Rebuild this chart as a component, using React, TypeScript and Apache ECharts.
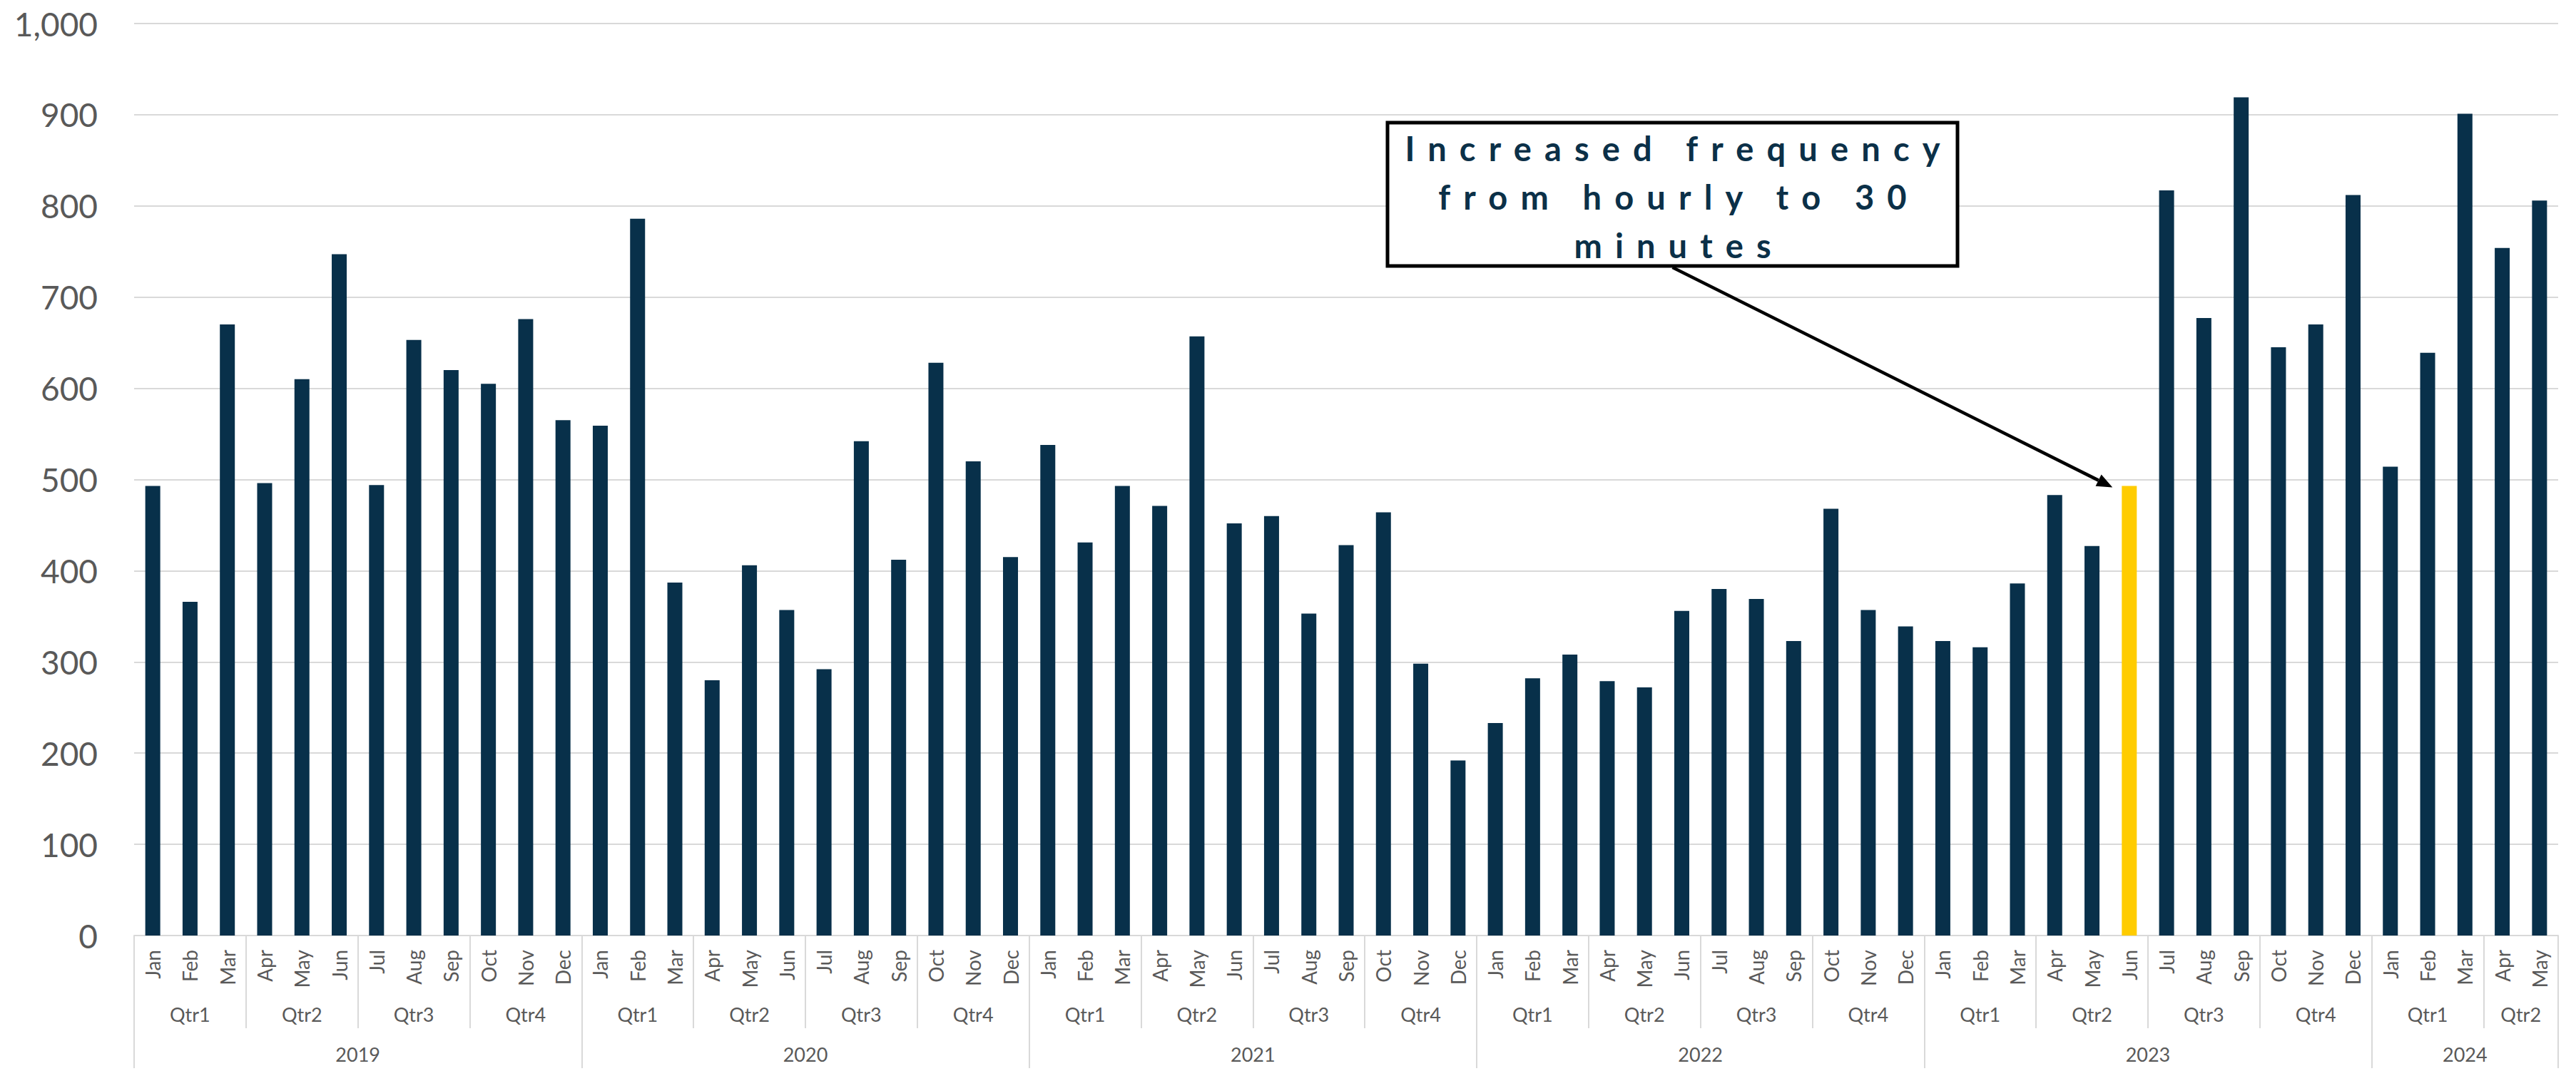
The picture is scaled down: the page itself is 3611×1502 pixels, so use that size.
import React, { useEffect, useRef } from "react";
import * as echarts from "echarts";

const monthNames = ["Jan", "Feb", "Mar", "Apr", "May", "Jun", "Jul", "Aug", "Sep", "Oct", "Nov", "Dec"];
const quarterNames = ["Qtr1", "Qtr2", "Qtr3", "Qtr4"];
const years = ["2019", "2020", "2021", "2022", "2023", "2024"];

const values2019 = [493, 366, 670, 496, 610, 747, 494, 653, 620, 605, 676, 565];
const values2020 = [559, 786, 387, 280, 406, 357, 292, 542, 412, 628, 520, 415];
const values2021 = [538, 431, 493, 471, 657, 452, 460, 353, 428, 464, 298, 192];
const values2022 = [233, 282, 308, 279, 272, 356, 380, 369, 323, 468, 357, 339];
const values2023 = [323, 316, 386, 483, 427, 493, 817, 677, 919, 645, 670, 812];
const values2024 = [514, 639, 901, 754, 806];

const yMin = 0;
const yMax = 1000;
const yStep = 100;

const highlightYear = "2023";
const highlightMonth = "Jun";

const annotationLines = ["Increased frequency", "from hourly to 30", "minutes"];

const yearValues = [values2019, values2020, values2021, values2022, values2023, values2024];

// derived structures
const categories: string[] = [];
const values: number[] = [];
const keys: string[] = [];
type Group = { name: string; start: number; end: number };
const quarterGroups: Group[] = [];
const yearGroups: Group[] = [];
{
  let offset = 0;
  yearValues.forEach((vals, yi) => {
    vals.forEach((v, mi) => {
      categories.push(monthNames[mi]);
      values.push(v);
      keys.push(years[yi] + "-" + monthNames[mi]);
    });
    for (let q = 0; q < 4; q++) {
      const s = q * 3;
      const e = Math.min(s + 3, vals.length);
      if (s < vals.length) quarterGroups.push({ name: quarterNames[q], start: offset + s, end: offset + e });
    }
    yearGroups.push({ name: years[yi], start: offset, end: offset + vals.length });
    offset += vals.length;
  });
}
const total = categories.length;
const highlightIndex = keys.indexOf(highlightYear + "-" + highlightMonth);

const bounds = (gs: Group[]) => [...gs.map((g) => g.start), gs[gs.length - 1].end];
const centers = (gs: Group[]) => gs.map((g) => (g.start + g.end) / 2);
const nameAt = (gs: Group[]) => (v: number) => {
  const g = gs.find((gg) => Math.abs((gg.start + gg.end) / 2 - v) < 1e-6);
  return g ? g.name : "";
};

const FONT = "Lato, 'Noto Sans', sans-serif";
const LABEL = "#595959";
const GRID = "#D9D9D9";
const BAR = "#08304A";
const HIGHLIGHT = "#FFCC00";
const NOTE = "#0B3048";

export default function App() {
  const ref = useRef<HTMLDivElement>(null);

  useEffect(() => {
    const el = ref.current!;
    const chart = echarts.init(el, null, { renderer: "svg" });

    const option: any = {
      animation: false,
      backgroundColor: "#ffffff",
      grid: { left: 188, right: 25, top: 33, bottom: 190, containLabel: false },
      xAxis: [
        {
          type: "category",
          data: categories,
          position: "bottom",
          axisLine: { show: true, lineStyle: { color: GRID, width: 2 } },
          axisTick: { show: false },
          axisLabel: {
            interval: 0,
            rotate: 90,
            fontFamily: FONT,
            fontSize: 28,
            color: LABEL,
            margin: 20,
          },
          splitLine: { show: false },
        },
        {
          type: "value",
          min: 0,
          max: total,
          position: "bottom",
          axisLine: { show: false },
          splitLine: { show: false },
          axisTick: {
            show: true,
            customValues: bounds(quarterGroups),
            length: 130,
            lineStyle: { color: GRID, width: 2 },
          },
          axisLabel: {
            customValues: centers(quarterGroups),
            formatter: nameAt(quarterGroups),
            fontFamily: FONT,
            fontSize: 27,
            color: LABEL,
            margin: 97,
            hideOverlap: false,
          },
        },
        {
          type: "value",
          min: 0,
          max: total,
          position: "bottom",
          axisLine: { show: false },
          splitLine: { show: false },
          axisTick: {
            show: true,
            customValues: bounds(yearGroups),
            length: 186,
            lineStyle: { color: GRID, width: 2 },
          },
          axisLabel: {
            customValues: centers(yearGroups),
            formatter: nameAt(yearGroups),
            fontFamily: FONT,
            fontSize: 27,
            color: LABEL,
            margin: 153,
            hideOverlap: false,
          },
        },
      ],
      yAxis: {
        type: "value",
        min: yMin,
        max: yMax,
        interval: yStep,
        axisLine: { show: false },
        axisTick: { show: false },
        axisLabel: {
          fontFamily: FONT,
          fontSize: 46,
          color: LABEL,
          margin: 51,
          formatter: (v: number) => v.toLocaleString("en-US"),
        },
        splitLine: { lineStyle: { color: GRID, width: 2 } },
      },
      series: [
        {
          type: "bar",
          xAxisIndex: 0,
          yAxisIndex: 0,
          barWidth: 21,
          data: values.map((v, i) => ({
            value: v,
            itemStyle: { color: i === highlightIndex ? HIGHLIGHT : BAR },
          })),
        },
      ],
    };
    chart.setOption(option);

    // annotation
    const box = { x: 1945, y: 172, w: 799, h: 201 };
    const start = [box.x + box.w / 2, box.y + box.h + 2];
    const p = chart.convertToPixel({ xAxisIndex: 0, yAxisIndex: 0 }, [highlightIndex, values[highlightIndex]]) as number[];
    const p2 = chart.convertToPixel({ xAxisIndex: 0, yAxisIndex: 0 }, [highlightIndex + 1, values[highlightIndex]]) as number[];
    const cw = p2[0] - p[0];
    const tip = [p[0] - 0.45 * cw, p[1] + 2];
    const dx = tip[0] - start[0];
    const dy = tip[1] - start[1];
    const len = Math.sqrt(dx * dx + dy * dy);
    const ux = dx / len;
    const uy = dy / len;
    const headLen = 22;
    const headHalf = 9;
    const base = [tip[0] - ux * headLen, tip[1] - uy * headLen];
    const nx = -uy;
    const ny = ux;

    const fontSize = 47;
    const fontStr = `bold ${fontSize}px Lato`;
    let spacing = 15;
    try {
      const c = document.createElement("canvas").getContext("2d")!;
      c.font = fontStr;
      const w = c.measureText(annotationLines[0]).width;
      spacing = Math.max(0, (750 - w) / (annotationLines[0].length - 1));
    } catch (e) {}

    chart.setOption({
      graphic: [
        {
          type: "rect",
          shape: { x: box.x, y: box.y, width: box.w, height: box.h },
          style: { fill: "#ffffff", stroke: "#000000", lineWidth: 5 },
          z: 100,
        },
        {
          type: "text",
          x: box.x + box.w / 2 + spacing / 2,
          y: box.y + box.h / 2 + 3,
          z: 101,
          style: {
            text: annotationLines.join("\n"),
            fontFamily: "Lato",
            fontWeight: "bold",
            fontSize: fontSize,
            lineHeight: 68,
            fill: NOTE,
            align: "center",
            verticalAlign: "middle",
          },
        },
        {
          type: "line",
          shape: { x1: start[0], y1: start[1], x2: base[0], y2: base[1] },
          style: { stroke: "#000000", lineWidth: 4.5 },
          z: 100,
        },
        {
          type: "polygon",
          shape: {
            points: [
              [tip[0], tip[1]],
              [base[0] + nx * headHalf, base[1] + ny * headHalf],
              [base[0] - nx * headHalf, base[1] - ny * headHalf],
            ],
          },
          style: { fill: "#000000" },
          z: 100,
        },
      ],
    });

    const applySpacing = () => {
      el.querySelectorAll("text").forEach((t) => {
        const s = (t.textContent || "").trim();
        if (annotationLines.includes(s)) t.setAttribute("letter-spacing", `${spacing}px`);
      });
    };
    applySpacing();
    chart.on("finished", applySpacing);
    const raf = requestAnimationFrame(applySpacing);
    const to = setTimeout(applySpacing, 50);

    return () => {
      cancelAnimationFrame(raf);
      clearTimeout(to);
      chart.dispose();
    };
  }, []);

  return (
    <div
      ref={ref}
      style={{ position: "absolute", left: 0, top: 0, width: 3611, height: 1502, background: "#fff" }}
    />
  );
}
